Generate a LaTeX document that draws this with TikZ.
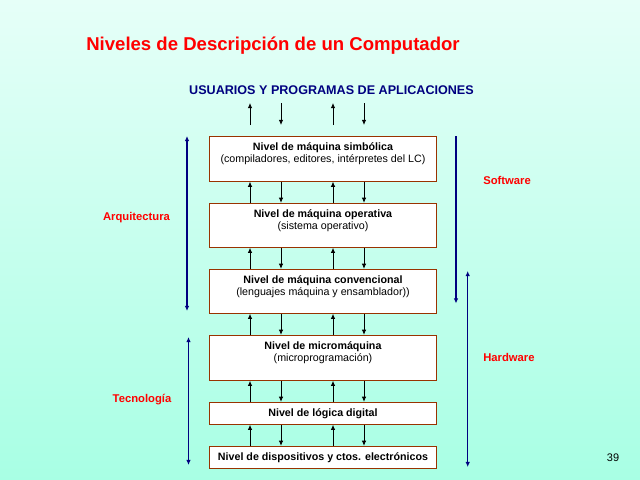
\documentclass[tikz,border=0pt]{standalone}
\usepackage{fontspec}
\setmainfont{Liberation Sans}
\usepackage{xcolor}
\usetikzlibrary{arrows.meta,positioning,calc}
\definecolor{navy}{RGB}{0,0,128}
\definecolor{brick}{RGB}{153,51,0}
\definecolor{mintTop}{RGB}{230,255,248}
\definecolor{mintBot}{RGB}{168,255,228}
\newlength{\pxu}\setlength{\pxu}{0.025cm}

\tikzset{
  nivel/.style={draw=brick,fill=white,line width=0.7pt,minimum width=227\pxu,
    inner sep=0pt,align=center,font=\fontsize{7.6}{8.6}\selectfont},
  dos/.style={text depth=8.5pt},
  flecha/.style={-{Latex[length=3.6pt,width=3.2pt]},line width=0.6pt},
  lado/.style={navy,line width=0.8pt},
  etiq/.style={red,inner sep=0pt,font=\bfseries\fontsize{8}{9}\selectfont},
}

\begin{document}
\begin{tikzpicture}[x=0.025cm,y=-0.025cm]
  \shade[top color=mintTop,bottom color=mintBot] (0,0) rectangle (640,480);
  \useasboundingbox (0,0) rectangle (640,480);
  % titulo
  \node[red,font=\bfseries\fontsize{13.2}{15}\selectfont] (titulo) at (273,46) {Niveles de Descripción de un Computador};
  \node[navy,font=\bfseries\fontsize{8.95}{10}\selectfont] (usr) at (331.5,90) {USUARIOS Y PROGRAMAS DE APLICACIONES};
  % niveles
  \node[nivel,dos,minimum height=45\pxu] (b1) at (323,158.7) {\textbf{Nivel de máquina simbólica}\\(compiladores, editores, intérpretes del LC)};
  \node[nivel,dos,minimum height=44\pxu] (b2) at (323,225.3) {\textbf{Nivel de máquina operativa}\\(sistema operativo)};
  \node[nivel,dos,minimum height=44\pxu] (b3) at (323,291.3) {\textbf{Nivel de máquina convencional}\\(lenguajes máquina y ensamblador))};
  \node[nivel,dos,minimum height=45\pxu] (b4) at (323,357.8) {\textbf{Nivel de micromáquina}\\(microprogramación)};
  \node[nivel,minimum height=22\pxu] (b5) at (323,413.3) {\textbf{Nivel de lógica digital}};
  \node[nivel,minimum height=22\pxu] (b6) at (323,457.3) {\textbf{Nivel de dispositivos y ctos. electrónicos}};
  % columnas
  \coordinate (c1) at (250,0);
  \coordinate (c2) at (281,0);
  \coordinate (c3) at (333,0);
  \coordinate (c4) at (364,0);
  % flechas de arriba
  \coordinate (ta) at (0,103);
  \coordinate (tb) at (0,125);
  \draw[flecha] (tb -| c1) -- (ta -| c1);
  \draw[flecha] (ta -| c2) -- (tb -| c2);
  \draw[flecha] (tb -| c3) -- (ta -| c3);
  \draw[flecha] (ta -| c4) -- (tb -| c4);
  \foreach \a/\b in {b1/b2,b2/b3,b3/b4,b4/b5,b5/b6} {
    \draw[flecha] (\b.north -| c1) -- (\a.south -| c1);
    \draw[flecha] (\a.south -| c2) -- (\b.north -| c2);
    \draw[flecha] (\b.north -| c3) -- (\a.south -| c3);
    \draw[flecha] (\a.south -| c4) -- (\b.north -| c4);
  }
  % rangos laterales
  \coordinate (arqA) at (187,136);
  \coordinate (arqB) at (187,311);
  \coordinate (tecA) at (188.5,337);
  \coordinate (tecB) at (188.5,465);
  \coordinate (swA) at (456,136);
  \coordinate (swB) at (456,303.5);
  \coordinate (hwA) at (467.7,271);
  \coordinate (hwB) at (467.7,467);
  \draw[lado,{Latex[length=3.6pt,width=3.2pt]}-{Latex[length=3.6pt,width=3.2pt]}] (arqA) -- (arqB);
  \draw[lado,{Latex[length=3.6pt,width=3.2pt]}-{Latex[length=3.6pt,width=3.2pt]}] (tecA) -- (tecB);
  \draw[lado,-{Latex[length=3.6pt,width=3.2pt]}] (swA) -- (swB);
  \draw[lado,{Latex[length=3.6pt,width=3.2pt]}-{Latex[length=3.6pt,width=3.2pt]}] (hwA) -- (hwB);
  \node[etiq] (arq) at (136.5,217.7) {Arquitectura};
  \node[etiq] (tec) at (142,400) {Tecnología};
  \node[etiq,anchor=west] (sw) at (483,180) {Software};
  \node[etiq,anchor=west] (hw) at (483,357.3) {Hardware};
  \node[font=\fontsize{7.8}{9}\selectfont] (pag) at (613,458) {39};
\end{tikzpicture}
\end{document}
